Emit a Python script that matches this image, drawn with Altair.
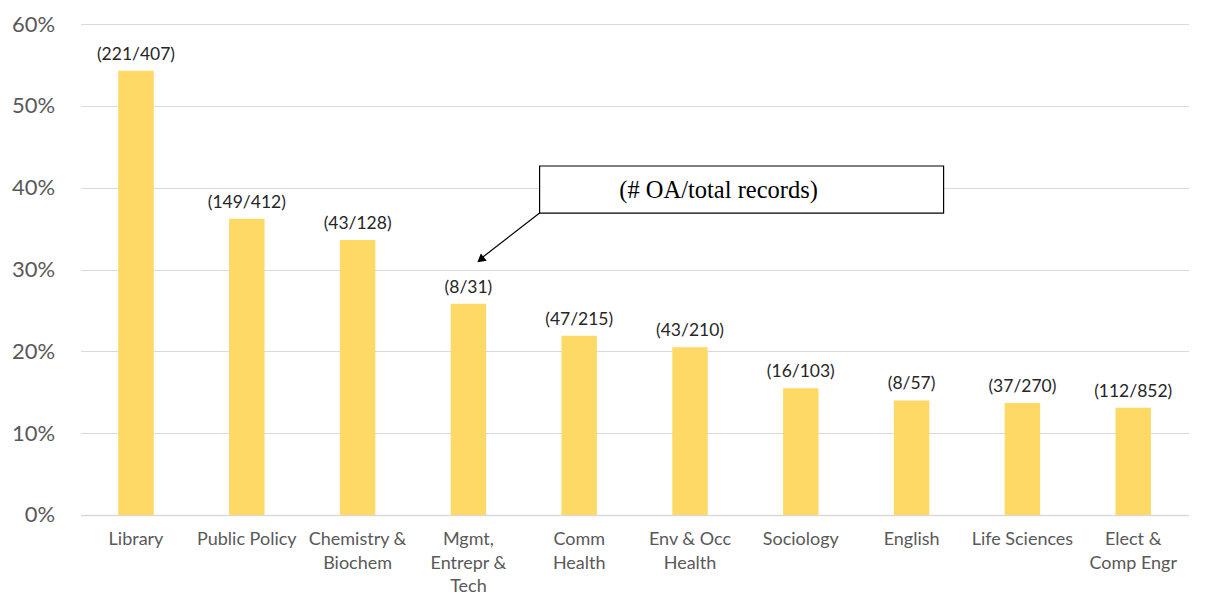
import altair as alt
import pandas as pd

categories = ["Library", "Public Policy", "Chemistry &|Biochem", "Mgmt,|Entrepr &|Tech",
              "Comm|Health", "Env & Occ|Health", "Sociology", "English", "Life Sciences",
              "Elect &|Comp Engr"]
oa = [221, 149, 43, 8, 47, 43, 16, 8, 37, 112]
total = [407, 412, 128, 31, 215, 210, 103, 57, 270, 852]
share = [0.543, 0.362, 0.336, 0.258, 0.219, 0.205, 0.155, 0.140, 0.137, 0.131]
labels = [f"({a}/{t})" for a, t in zip(oa, total)]

df = pd.DataFrame({"cat": categories, "share": share, "label": labels})

W, H = 1108, 491
x = alt.X("cat:N", sort=categories, title=None,
          scale=alt.Scale(paddingInner=0.68, paddingOuter=0.34),
          axis=alt.Axis(labelExpr="split(datum.label, '|')", labelAngle=0,
                        labelFont="Lato", labelFontSize=18, labelColor="#595959",
                        labelLineHeight=23.5, labelPadding=16, ticks=False,
                        domainColor="#d9d9d9", domainWidth=1.5, grid=False,
                        labelBaseline="top"))
y = alt.Y("share:Q", title=None,
          scale=alt.Scale(domain=[0, 0.6], nice=False),
          axis=alt.Axis(format=".0%", values=[0, 0.1, 0.2, 0.3, 0.4, 0.5, 0.6],
                        labelFont="Lato", labelFontSize=22, labelColor="#595959",
                        labelPadding=26, ticks=False, domain=False,
                        gridColor="#d9d9d9", gridWidth=1.2))

bars = alt.Chart(df).mark_bar(color="#FFD966").encode(x=x, y=y)
text = alt.Chart(df).mark_text(font="Lato", fontSize=17.5, color="#262626",
                               baseline="bottom", dy=-7).encode(
    x=alt.X("cat:N", sort=categories), y="share:Q", text="label:N")

# annotation box
box_df = pd.DataFrame({"y1": [0.4265], "y2": [0.369]})
box = alt.Chart(box_df).mark_rect(fill="white", stroke="#000000", strokeWidth=1.2).encode(
    x=alt.value(459), x2=alt.value(863), y="y1:Q", y2="y2:Q")
box_text = alt.Chart(pd.DataFrame({"t": ["(# OA/total records)"], "yy": [0.3955]})).mark_text(
    font="Liberation Serif", fontSize=24.5, color="#000000").encode(
    x=alt.value(638), y="yy:Q", text="t:N")
arrow_df = pd.DataFrame({"y1": [0.369], "y2": [0.315]})
arrow = alt.Chart(arrow_df).mark_rule(color="#000000", strokeWidth=1.2).encode(
    x=alt.value(459), x2=alt.value(402), y="y1:Q", y2="y2:Q")
head = alt.Chart(pd.DataFrame({"yy": [0.312]})).mark_point(
    shape="triangle-up", filled=True, color="#000000", size=90, angle=231, opacity=1).encode(
    x=alt.value(400), y="yy:Q")

chart = alt.layer(bars, text, box, box_text, arrow, head).properties(
    width=W, height=H,
    autosize=alt.AutoSizeParams(type="none"),
    padding={"left": 72.6, "top": 16, "right": 10, "bottom": 90},
).configure(background="white").configure_view(stroke=None)

chart.save("out.html", embed_options={"renderer": "svg", "actions": False})
